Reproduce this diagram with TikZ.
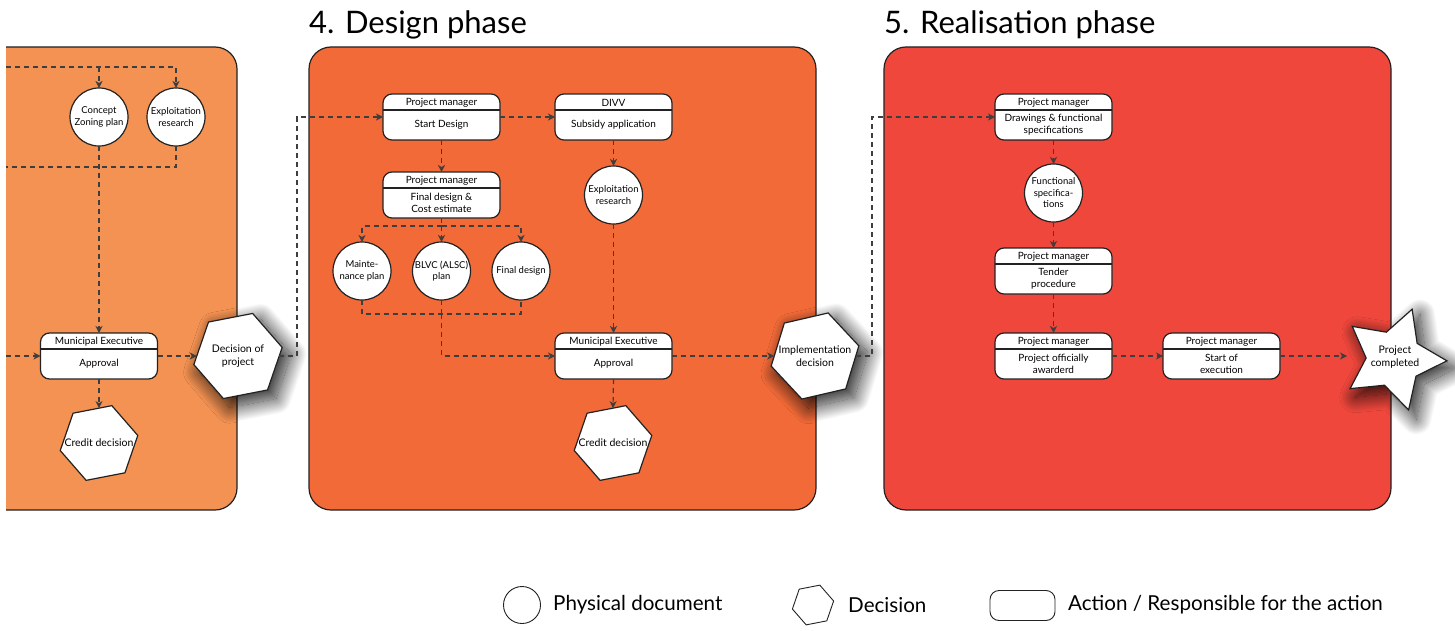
\documentclass[tikz,border=0pt]{standalone}
\usepackage{fontspec}
\setmainfont{Lato}
\usetikzlibrary{arrows.meta,shapes.geometric,shadows.blur,calc}

\definecolor{phaseA}{RGB}{243,146,82}
\definecolor{phaseB}{RGB}{242,106,56}
\definecolor{phaseC}{RGB}{239,71,60}
\definecolor{edgegray}{RGB}{34,34,34}
\definecolor{flowgray}{RGB}{62,62,62}

\tikzset{
  panel/.style={draw=edgegray, line width=1.2pt, rounded corners=22pt},
  actbox/.style={draw=edgegray, fill=white, line width=1.2pt, rounded corners=9pt,
    minimum width=117pt, minimum height=46pt, inner sep=0pt, outer sep=0pt},
  hdrtxt/.style={font=\fontsize{10}{11}\selectfont, inner sep=0pt},
  bodytxt/.style={font=\fontsize{10}{12}\selectfont, align=center, inner sep=0pt},
  doc/.style={circle, draw=edgegray, fill=white, line width=1.2pt, minimum size=58pt,
    inner sep=0pt, outer sep=0pt},
  doctxt/.style={font=\fontsize{9.5}{11.5}\selectfont, align=center, inner sep=0pt},
  decision/.style={regular polygon, regular polygon sides=6, draw=edgegray, fill=white,
    line width=1.2pt, inner sep=0pt, outer sep=0pt},
  dectxt/.style={font=\fontsize{10.5}{12.5}\selectfont, align=center, inner sep=0pt},
  shade/.style={blur shadow={shadow xshift=7pt, shadow yshift=-7pt, shadow scale=1.04,
    shadow blur radius=15pt, shadow blur steps=40, shadow opacity=85}},
  dline/.style={draw=flowgray, line width=1.2pt, dash pattern=on 5pt off 4pt},
  flow/.style={dline, -{Stealth[length=7pt,width=7pt,inset=2pt]}},
  phasetitle/.style={font=\fontsize{31}{35}\selectfont, anchor=base west, inner sep=0pt},
  legendtxt/.style={font=\fontsize{20.6}{24}\selectfont, anchor=west, inner sep=0pt},
}

% action box: name, centre, responsible party, action
\newcommand{\actionbox}[4]{%
  \node[actbox] (#1) at (#2) {};
  \draw[edgegray, line width=1.2pt] ([yshift=-16pt]#1.north west) -- ([yshift=-16pt]#1.north east);
  \node[hdrtxt] (#1h) at ([yshift=-8.5pt]#1.north) {#3};
  \node[bodytxt] (#1b) at ([yshift=-7.5pt]#1.center) {#4};
}
% physical document: name, centre, text
\newcommand{\docnode}[3]{%
  \node[doc] (#1) at (#2) {};
  \node[doctxt] (#1t) at (#1.center) {#3};
}
% decision: [extra style], name, centre, size, rotation, text
\newcommand{\decnode}[6][]{%
  \node[decision, #1, minimum size=#4pt, shape border rotate=#5] (#2) at (#3) {};
  \node[dectxt] (#2t) at (#2.center) {#6};
}

\begin{document}
\begin{tikzpicture}[x=1pt, y=-1pt]
\useasboundingbox (0,0) rectangle (1455,631);

% ---- phase panels ----
\begin{scope}
  \clip (6,0) rectangle (300,631);
  \filldraw[panel, fill=phaseA] (-40,47) rectangle (237,510);
\end{scope}
\filldraw[panel, fill=phaseB] (309,47) rectangle (816,510);
\filldraw[panel, fill=phaseC] (884,47) rectangle (1391,510);

\node[phasetitle] (t4) at (309,34) {4. Design phase};
\node[phasetitle] (t5) at (884,34) {5. Realisation phase};

% ---- previous phase (partly visible) ----
\docnode{cz}{99,117}{Concept\\Zoning plan}
\docnode{er1}{176,117}{Exploitation\\research}
\actionbox{ap1}{99,356}{Municipal Executive}{Approval}
\decnode{cd1}{99,443}{79}{11}{Credit decision}
\decnode[shade]{dp}{238,356}{90}{11}{Decision of\\project}

\coordinate (inA) at (6,67);
\coordinate (inB) at (6,167);
\coordinate (inC) at (6,356);

\draw[flow] (inA) -| (er1.north);
\draw[flow] (cz.north |- inA) -- (cz.north);
\draw[dline] (er1.south) |- (inB);
\draw[flow] (cz.south) -- (ap1.north);
\draw[flow] (inC) -- (ap1.west);
\draw[flow] (ap1.east) -- (dp.west);
\draw[flow] (ap1.south) -- (cd1.north);

% ---- design phase ----
\actionbox{sd}{441.5,117}{Project manager}{Start Design}
\actionbox{sa}{613.5,117}{DIVV}{Subsidy application}
\actionbox{fd}{441.5,195}{Project manager}{Final design \&\\Cost estimate}
\docnode{mp}{362,271}{Mainte-\\nance plan}
\docnode{blvc}{441.5,271}{BLVC (ALSC)\\plan}
\docnode{fdc}{521,271}{Final design}
\docnode{er2}{613.5,195}{Exploitation\\research}
\actionbox{ap2}{613.5,356}{Municipal Executive}{Approval}
\decnode{cd2}{613,443}{79}{11}{Credit decision}
\decnode[shade]{id}{815,356}{90}{13}{Implementation\\decision}

\draw[flow] (dp.east) -- (297,356) |- (sd.west);
\draw[flow] (sd.east) -- (sa.west);
\draw[flow] (sd.south) -- (fd.north);
\draw[dline] (fd.south) -- ++(0,8) coordinate (fdj);
\draw[flow] (fdj) -| (mp.north);
\draw[flow] (fdj) -| (fdc.north);
\draw[flow] (fdj) -- (blvc.north);
\coordinate (mj) at (441.5,314);
\draw[dline] (mp.south) |- (mj) -| (fdc.south);
\draw[dline] (blvc.south) -- (mj);
\draw[flow] (mj) |- (ap2.west);
\draw[flow] (sa.south) -- (er2.north);
\draw[flow] (er2.south) -- (ap2.north);
\draw[flow] (ap2.east) -- (id.west);
\draw[flow] (ap2.south) -- (cd2.north);

% ---- realisation phase ----
\actionbox{dr}{1053.5,117}{Project manager}{Drawings \& functional\\specifications}
\docnode{fs}{1053.5,193}{Functional\\specifica-\\tions}
\actionbox{tp}{1053.5,271}{Project manager}{Tender\\procedure}
\actionbox{pa}{1053.5,356}{Project manager}{Project officially\\awarderd}
\actionbox{se}{1221.5,356}{Project manager}{Start of\\execution}
\node[star, star points=5, star point ratio=1.9, minimum size=106pt,
  shape border rotate=-20, draw=edgegray, fill=white, line width=1.2pt,
  inner sep=0pt, outer sep=0pt, shade] (pc) at (1394,359) {};
\node[dectxt] (pct) at (1395,357) {Project\\completed};

\draw[flow] (id.east) -- (872,356) |- (dr.west);
\draw[flow] (dr.south) -- (fs.north);
\draw[flow] (fs.south) -- (tp.north);
\draw[flow] (tp.south) -- (pa.north);
\draw[flow] (pa.east) -- (se.west);
\draw[flow, shorten >=47pt] (se.east) -- (se.east -| pc.center);

% ---- legend ----
\node[circle, draw=edgegray, line width=0.9pt, minimum size=37pt, inner sep=0pt] (lg1) at (522,605) {};
\node[legendtxt] (lg1t) at (553,605) {Physical document};
\node[regular polygon, regular polygon sides=6, draw=edgegray, line width=0.9pt,
  minimum size=42pt, shape border rotate=11, inner sep=0pt] (lg2) at (813,605) {};
\node[legendtxt] (lg2t) at (848,605) {Decision};
\node[draw=edgegray, line width=0.9pt, rounded corners=9pt, minimum width=65pt,
  minimum height=30pt, inner sep=0pt] (lg3) at (1022.5,605.5) {};
\node[legendtxt] (lg3t) at (1068,605) {Action / Responsible for the action};
\end{tikzpicture}
\end{document}
